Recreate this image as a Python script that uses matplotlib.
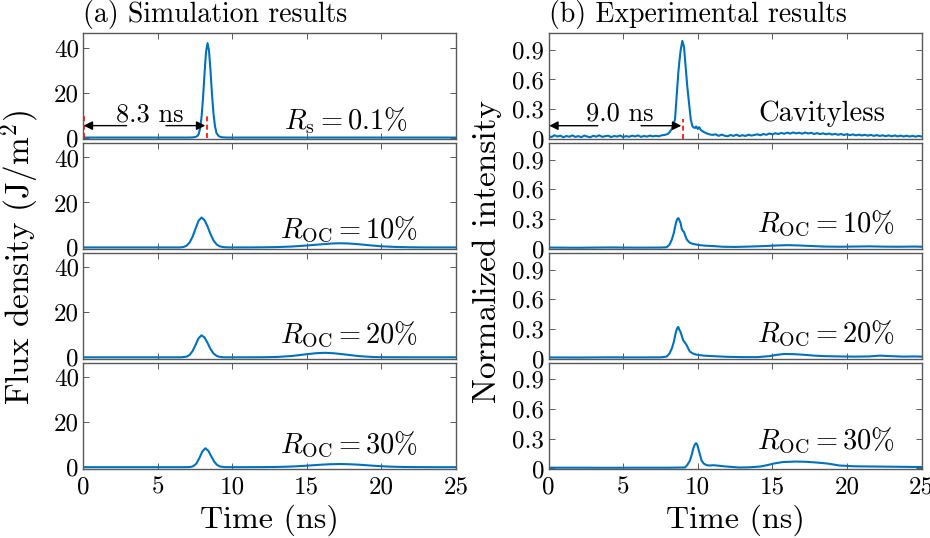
import matplotlib
matplotlib.use("Agg")
import matplotlib.pyplot as plt

plt.rcParams["font.family"] = ["cmr10", "DejaVu Serif"]
plt.rcParams["mathtext.fontset"] = "cm"
plt.rcParams["axes.unicode_minus"] = False

AZUL = "#0072BD"
MOLDURA = "0.35"
FS_TICK = 18
FS_TXT = 20.5
FS_ATRASO = 19
FS_TIT = 20
FS_XLAB = 23
FS_YLAB = 24

# ---- (a) simulação: densidade de fluxo (J/m^2) ----
t_rs = [0, 7.0, 7.35, 7.55, 7.65, 7.75, 7.85, 7.95, 8.05, 8.15, 8.25, 8.35, 8.45, 8.55,
        8.65, 8.75, 8.85, 8.95, 9.1, 9.3, 9.6, 25]
v_rs = [0, 0, 0.05, 0.3, 0.6, 1.4, 4.0, 9.3, 17.9, 28.8, 38.2, 42.0, 38.5, 29.5,
        19.0, 10.5, 5.0, 2.0, 0.6, 0.15, 0, 0]

t_oc10 = [0, 6.5, 6.75, 6.95, 7.15, 7.35, 7.55, 7.75, 7.95, 8.15, 8.35, 8.55, 8.75, 8.95,
          9.15, 9.45, 9.8, 11, 12, 13, 14, 15, 16, 16.7, 17.2, 17.8, 18.5, 19.3, 20, 21, 22, 23, 25]
v_oc10 = [0, 0, 0.2, 0.8, 2.2, 4.8, 8.45, 11.9, 13.3, 12.1, 9.3, 5.9, 3.1, 1.4,
          0.5, 0.1, 0, 0, 0.05, 0.15, 0.4, 0.85, 1.4, 1.75, 1.85, 1.75, 1.4, 0.9, 0.5, 0.2, 0.06, 0, 0]

t_oc20 = [0, 6.6, 6.95, 7.15, 7.35, 7.55, 7.75, 7.95, 8.15, 8.35, 8.55, 8.75, 8.95, 9.15,
          9.45, 11, 12, 13, 14, 15, 15.6, 16.2, 16.8, 17.5, 18.5, 19.5, 20.5, 22, 25]
v_oc20 = [0, 0, 0.3, 1.07, 2.8, 5.6, 8.5, 9.8, 8.8, 6.4, 3.7, 1.7, 0.66, 0.2,
          0, 0, 0.02, 0.15, 0.58, 1.38, 1.8, 2.0, 1.8, 1.3, 0.52, 0.1, 0.02, 0, 0]

t_oc30 = [0, 6.9, 7.2, 7.4, 7.6, 7.8, 8.0, 8.2, 8.4, 8.6, 8.8, 9.0, 9.2, 9.5, 9.8,
          11, 12, 13, 14, 15, 16, 16.6, 17.2, 17.8, 18.5, 19.5, 20.5, 21.5, 22.5, 23.5, 25]
v_oc30 = [0, 0, 0.08, 0.44, 1.6, 4.0, 7.0, 8.4, 7.3, 4.8, 2.4, 0.92, 0.26, 0.03, 0,
          0, 0.03, 0.1, 0.29, 0.66, 1.12, 1.32, 1.4, 1.32, 1.1, 0.62, 0.26, 0.08, 0.02, 0, 0]

# ---- (b) experimento: intensidade normalizada ----
t_cav = [0.0, 0.2, 0.4, 0.6, 0.8, 1.0, 1.2, 1.4, 1.6, 1.8, 2.0, 2.2, 2.4, 2.6, 2.8, 3.0,
         3.2, 3.4, 3.6, 3.8, 4.0, 4.2, 4.4, 4.6, 4.8, 5.0, 5.2, 5.4, 5.6, 5.8, 6.0, 6.2,
         6.4, 6.6, 6.8, 7.0, 7.2, 7.4, 7.6, 7.8, 8.0, 8.13, 8.26, 8.37, 8.48, 8.59, 8.70,
         8.77, 8.86, 8.97, 9.08, 9.19, 9.30, 9.44, 9.53, 9.64, 9.73, 9.82, 9.9, 10.0, 10.1,
         10.2, 10.4, 10.6, 10.8, 11.0, 11.2, 11.4, 11.6, 11.8, 12.0, 12.2, 12.4, 12.6, 12.8,
         13.0, 13.2, 13.4, 13.6, 13.8, 14.0, 14.2, 14.4, 14.6, 14.8, 15.0, 15.2, 15.4, 15.6,
         15.8, 16.0, 16.2, 16.4, 16.6, 16.8, 17.0, 17.2, 17.4, 17.6, 17.8, 18.0, 18.2, 18.4,
         18.6, 18.8, 19.0, 19.2, 19.4, 19.6, 19.8, 20.0, 20.2, 20.4, 20.6, 20.8, 21.0, 21.2,
         21.4, 21.6, 21.8, 22.0, 22.2, 22.4, 22.6, 22.8, 23.0, 23.2, 23.4, 23.6, 23.8, 24.0,
         24.2, 24.4, 24.6, 24.8, 25.0]
v_cav = [0.03, 0.018, 0.036, 0.024, 0.032, 0.016, 0.029, 0.021, 0.035, 0.019, 0.028, 0.017,
         0.033, 0.023, 0.016, 0.031, 0.022, 0.036, 0.02, 0.027, 0.032, 0.018, 0.029, 0.023,
         0.034, 0.018, 0.028, 0.021, 0.032, 0.024, 0.035, 0.02, 0.029, 0.023, 0.033, 0.025,
         0.031, 0.026, 0.036, 0.04, 0.05, 0.07, 0.1, 0.14, 0.2, 0.43, 0.67,
         0.78, 0.9, 0.99, 0.93, 0.73, 0.53, 0.33, 0.2, 0.13, 0.115, 0.11, 0.125, 0.1, 0.118,
         0.09, 0.07, 0.055, 0.045, 0.04, 0.046, 0.03, 0.043, 0.032, 0.026, 0.039, 0.03, 0.042,
         0.028, 0.037, 0.029, 0.042, 0.033, 0.04, 0.046, 0.036, 0.049, 0.041, 0.054, 0.045,
         0.057, 0.048, 0.06, 0.051, 0.063, 0.053, 0.065, 0.055, 0.062, 0.052, 0.064, 0.054,
         0.061, 0.049, 0.058, 0.048, 0.056, 0.046, 0.054, 0.043, 0.051, 0.041, 0.049, 0.039,
         0.047, 0.037, 0.045, 0.035, 0.043, 0.034, 0.041, 0.032, 0.04, 0.03, 0.038, 0.029,
         0.036, 0.027, 0.035, 0.026, 0.034, 0.025, 0.033, 0.024, 0.032, 0.023, 0.031, 0.022,
         0.03, 0.024]

t_e10 = [0, 2, 4, 6, 7.5, 7.92, 8.1, 8.26, 8.4, 8.48, 8.56, 8.63, 8.7, 8.77, 8.85, 8.93,
         9.0, 9.08, 9.17, 9.26, 9.37, 9.48, 9.65, 9.8, 10.2, 10.6, 11.2, 11.7, 12.5, 13.5,
         14.5, 15.3, 16.0, 16.8, 17.5, 18.5, 19.5, 20.5, 21.5, 22.5, 23.5, 24.5, 25]
v_e10 = [0.012, 0.01, 0.013, 0.011, 0.012, 0.015, 0.04, 0.09, 0.16, 0.22, 0.27, 0.30,
         0.31, 0.29, 0.26, 0.2, 0.18, 0.17, 0.13, 0.095, 0.075, 0.06, 0.05, 0.045, 0.035,
         0.03, 0.025, 0.02, 0.018, 0.022, 0.027, 0.033, 0.036, 0.033, 0.028, 0.022, 0.02,
         0.022, 0.024, 0.021, 0.02, 0.022, 0.02]

t_e20 = [0, 2, 4, 6, 7.5, 7.92, 8.1, 8.26, 8.4, 8.48, 8.56, 8.63, 8.7, 8.77, 8.85, 8.93,
         9.03, 9.15, 9.26, 9.37, 9.48, 9.7, 9.9, 10.4, 11.0, 12, 13, 14, 14.8, 15.3, 15.8,
         16.4, 17, 17.8, 18.5, 19.5, 20.5, 21.5, 22.2, 22.9, 23.8, 24.5, 25]
v_e20 = [0.012, 0.011, 0.013, 0.012, 0.013, 0.02, 0.05, 0.1, 0.17, 0.23, 0.28, 0.31,
         0.32, 0.29, 0.27, 0.23, 0.185, 0.16, 0.135, 0.1, 0.07, 0.05, 0.04, 0.03, 0.025,
         0.018, 0.015, 0.015, 0.025, 0.038, 0.047, 0.045, 0.04, 0.03, 0.025, 0.022, 0.02,
         0.022, 0.03, 0.025, 0.02, 0.022, 0.02]

t_e30 = [0, 2, 4, 6, 8, 9.15, 9.3, 9.48, 9.6, 9.7, 9.8, 9.89, 9.97, 10.04, 10.15, 10.26,
         10.4, 10.6, 10.8, 11.05, 11.4, 11.9, 12.4, 12.8, 13.5, 14.2, 14.7, 15.1, 15.7,
         16.2, 16.6, 17.2, 17.8, 18.2, 18.7, 19.5, 20.5, 21.7, 23, 24.6, 25]
v_e30 = [0.008, 0.008, 0.007, 0.008, 0.008, 0.01, 0.035, 0.08, 0.14, 0.2, 0.24, 0.256,
         0.24, 0.2, 0.14, 0.08, 0.05, 0.033, 0.03, 0.033, 0.028, 0.02, 0.014, 0.01, 0.012,
         0.02, 0.035, 0.05, 0.065, 0.068, 0.07, 0.068, 0.062, 0.057, 0.05, 0.03, 0.022,
         0.02, 0.018, 0.015, 0.015]

sim = [(t_rs, v_rs), (t_oc10, v_oc10), (t_oc20, v_oc20), (t_oc30, v_oc30)]
exp_ = [(t_cav, v_cav), (t_e10, v_e10), (t_e20, v_e20), (t_e30, v_e30)]

rot_sim = [r"$R_{\mathrm{s}}=0.1\%$", r"$R_{\mathrm{OC}}=10\%$",
           r"$R_{\mathrm{OC}}=20\%$", r"$R_{\mathrm{OC}}=30\%$"]
pos_sim = [(17.6, 3.6), (17.85, 4.2), (17.85, 6.4), (17.85, 6.3)]
rot_exp = ["Cavityless", r"$R_{\mathrm{OC}}=10\%$",
           r"$R_{\mathrm{OC}}=20\%$", r"$R_{\mathrm{OC}}=30\%$"]
pos_exp = [(18.3, 0.18), (18.6, 0.17), (18.6, 0.17), (18.6, 0.2)]

x_ticks = [0, 5, 10, 15, 20, 25]
y_sim = [0, 20, 40]
y_exp = [0, 0.3, 0.6, 0.9]
y_exp_rot = ["0", "0.3", "0.6", "0.9"]


def _moldura(ax):
    for lado in ax.spines.values():
        lado.set_color(MOLDURA)
        lado.set_linewidth(1.0)
    ax.tick_params(direction="in", top=True, right=True, length=4, width=0.7,
                   color=MOLDURA, labelsize=FS_TICK, pad=3)
    ax.tick_params(axis="x", pad=5)
    ax.set_xlim(0, 25)
    ax.set_xticks(x_ticks)


def _seta(ax, x0, x1, y):
    ax.annotate("", xy=(x1, y), xytext=(x0, y),
                arrowprops=dict(arrowstyle="-|>", color="k", lw=1.0,
                                mutation_scale=13, shrinkA=0, shrinkB=0))


def _tracejado(ax, x, y0, y1):
    ax.plot([x, x], [y0, y1], color="#FF0000", lw=1.2, dashes=(3, 2))


fig, axes = plt.subplots(4, 2, figsize=(9.3, 5.38), dpi=100)
fig.subplots_adjust(left=0.0892, right=0.9909, top=0.9387, bottom=0.1283,
                    hspace=0.033, wspace=0.248)

for i in range(4):
    ax = axes[i, 0]
    _moldura(ax)
    t, v = sim[i]
    ax.plot(t, v, color=AZUL, lw=1.5)
    ax.set_ylim(-0.8, 46.5)
    ax.set_yticks(y_sim)
    ax.set_yticklabels([str(y) for y in y_sim])
    ax.text(*pos_sim[i], rot_sim[i], ha="center", va="baseline", fontsize=FS_TXT)

    ax = axes[i, 1]
    _moldura(ax)
    t, v = exp_[i]
    ax.plot(t, v, color=AZUL, lw=1.5)
    ax.set_ylim(-0.005, 1.07)
    ax.set_yticks(y_exp)
    ax.set_yticklabels(y_exp_rot)
    ax.text(*pos_exp[i], rot_exp[i], ha="center", va="baseline", fontsize=FS_TXT)

    if i < 3:
        axes[i, 0].set_xticklabels([])
        axes[i, 1].set_xticklabels([])
    else:
        axes[i, 0].set_xticklabels([str(x) for x in x_ticks])
        axes[i, 1].set_xticklabels([str(x) for x in x_ticks])
        axes[i, 0].set_xlabel("Time (ns)", fontsize=FS_XLAB, labelpad=5)
        axes[i, 1].set_xlabel("Time (ns)", fontsize=FS_XLAB, labelpad=5)

# atraso do pulso: simulação
a = axes[0, 0]
_tracejado(a, 0.05, 0, 10.2)
_tracejado(a, 8.3, 0, 10.2)
_seta(a, 2.93, 0.05, 5.3)
_seta(a, 5.56, 8.2, 5.3)
a.text(4.47, 10.2, "8.3 ns", ha="center", va="center", fontsize=FS_ATRASO)

# atraso do pulso: experimento
b = axes[0, 1]
_tracejado(b, 0.05, 0, 0.22)
_tracejado(b, 9.0, 0, 0.2)
_seta(b, 3.3, 0.05, 0.133)
_seta(b, 6.2, 8.9, 0.133)
b.text(4.77, 0.25, "9.0 ns", ha="center", va="center", fontsize=FS_ATRASO)

axes[0, 0].set_title("(a) Simulation results", loc="left", fontsize=FS_TIT, pad=8)
axes[0, 1].set_title("(b) Experimental results", loc="left", fontsize=FS_TIT, pad=8)

fig.text(20 / 930, 0.522, r"Flux density (J/m$^2$)", rotation=90, ha="center",
         va="center", fontsize=FS_YLAB)
fig.text(487 / 930, 0.533, "Normalized intensity", rotation=90, ha="center",
         va="center", fontsize=FS_YLAB)

fig.savefig("out.png", dpi=100, facecolor="white")
